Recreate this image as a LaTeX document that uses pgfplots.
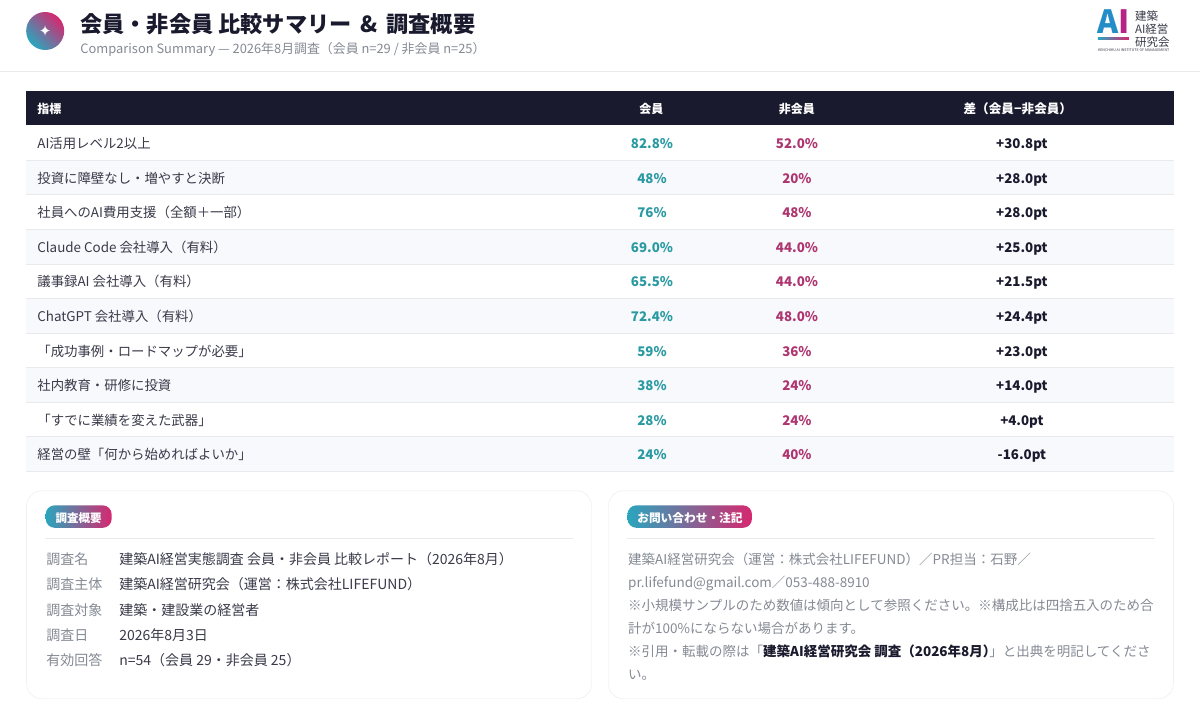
\documentclass[border=0pt]{standalone}
\usepackage{pgfplots}
\pgfplotsset{compat=1.18}
\usepackage{pgfplotstable}
\usepackage{fontspec}
\setmainfont{Noto Sans CJK JP}
\newfontfamily\dejavu{DejaVu Sans}
\definecolor{ink}{HTML}{1A1A2E}
\definecolor{teal1}{HTML}{2A9AA2}
\definecolor{mag1}{HTML}{AE3570}
\definecolor{gtxt}{HTML}{3A3A4A}
\definecolor{grey1}{HTML}{858A94}
\definecolor{line1}{HTML}{E8EAEE}
\definecolor{alt}{HTML}{F7F9FC}
\definecolor{gA}{HTML}{2AA6BE}
\definecolor{gB}{HTML}{D6286F}
\newcommand{\fs}[1]{\fontsize{#1}{#1}\selectfont}
\tikzset{tx/.style={inner sep=0pt,font=\fs{#1},text height=#1*0.86pt,text depth=#1*0.03pt},
         txb/.style={inner sep=0pt,font=\fs{#1}\bfseries,text height=#1*0.86pt,text depth=#1*0.03pt}}
\pgfplotstableread[col sep=comma]{
y,lab,mem,non,dif
143.1,AI活用レベル2以上,82.8\%,52.0\%,+30.8pt
177.7,投資に障壁なし・増やすと決断,48\%,20\%,+28.0pt
212.3,社員へのAI費用支援（全額＋一部）,76\%,48\%,+28.0pt
246.9,Claude Code 会社導入（有料）,69.0\%,44.0\%,+25.0pt
281.5,議事録AI 会社導入（有料）,65.5\%,44.0\%,+21.5pt
316.1,ChatGPT 会社導入（有料）,72.4\%,48.0\%,+24.4pt
350.7,「成功事例・ロードマップが必要」,59\%,36\%,+23.0pt
385.3,社内教育・研修に投資,38\%,24\%,+14.0pt
419.9,「すでに業績を変えた武器」,28\%,24\%,+4.0pt
454.5,経営の壁「何から始めればよいか」,24\%,40\%,-16.0pt
}\rows
\begin{document}
\begin{tikzpicture}
\begin{axis}[
  scale only axis, width=1200pt, height=721pt,
  xmin=0, xmax=1200, ymin=0, ymax=721, y dir=reverse,
  hide axis, clip=false,
  nodes near coords style={anchor=center, txb=13.3},
]
\fill[white] (axis cs:0,0) rectangle (axis cs:1200,721);
% header
\draw[line1] (axis cs:0,71.5) -- (axis cs:1200,71.5);
\shade[left color=gA, right color=gB, shading angle=135] (axis cs:45,31) circle[radius=19pt];
\node[white,inner sep=0pt,font=\dejavu\fs{15}] at (axis cs:45,31) {✦};
\node[anchor=west,txb=22.2,text=ink] at (axis cs:80,23) {会員・非会員 比較サマリー \,\&\, 調査概要};
\node[anchor=west,tx=12.9,text=grey1] at (axis cs:80,48) {Comparison Summary — 2026年8月調査（会員 n=29 / 非会員 n=25）};
% logo
\node[anchor=center,txb=32,text=gA!85!blue] at (axis cs:1108.5,20.3) {A};
\node[anchor=center,txb=32,text=gB!85!blue] at (axis cs:1124,20.3) {I};
\shade[left color=gA, right color=gB] (axis cs:1098,37.5) rectangle (axis cs:1129,40);
\node[anchor=west,tx=11.5,text=gtxt] at (axis cs:1135,16) {建築};
\node[anchor=west,tx=11.5,text=gtxt] at (axis cs:1135,29) {AI経営};
\node[anchor=west,tx=11.5,text=gtxt] at (axis cs:1135,42) {研究会};
\node[anchor=west,tx=3.6,text=gtxt] at (axis cs:1098,50) {KENCHIKU AI INSTITUTE OF MANAGEMENT};
% table backgrounds
\fill[ink] (axis cs:26,91) rectangle (axis cs:1174,125.3);
\fill[alt] (axis cs:26,160) rectangle (axis cs:1174,194.6);
\fill[alt] (axis cs:26,229.2) rectangle (axis cs:1174,263.8);
\fill[alt] (axis cs:26,298.4) rectangle (axis cs:1174,333);
\fill[alt] (axis cs:26,367.6) rectangle (axis cs:1174,402.2);
\fill[alt] (axis cs:26,436.8) rectangle (axis cs:1174,471.4);
\foreach \yy in {160,194.6,229.2,263.8,298.4,333,367.6,402.2,436.8,471.4}{
  \edef\temp{\noexpand\draw[line1] (axis cs:26,\yy) -- (axis cs:1174,\yy);}\temp
}
\node[anchor=west,txb=12,text=white] at (axis cs:37,108.7) {指標};
\node[txb=12,text=white] at (axis cs:651.5,108.7) {会員};
\node[txb=12,text=white] at (axis cs:797,108.7) {非会員};
\node[txb=12.6,text=white] at (axis cs:1018,108.7) {差（会員−非会員）};
% table text
\addplot[only marks, mark=none, point meta=explicit symbolic,
  nodes near coords,
  nodes near coords style={anchor=west, tx=13.4, text=gtxt}]
  table[col sep=comma, x expr=37, y=y, meta=lab] {\rows};
\addplot[only marks, mark=none, point meta=explicit symbolic,
  nodes near coords, nodes near coords style={text=teal1}]
  table[col sep=comma, x expr=652, y=y, meta=mem] {\rows};
\addplot[only marks, mark=none, point meta=explicit symbolic,
  nodes near coords, nodes near coords style={text=mag1}]
  table[col sep=comma, x expr=797, y=y, meta=non] {\rows};
\addplot[only marks, mark=none, point meta=explicit symbolic,
  nodes near coords, nodes near coords style={text=ink}]
  table[col sep=comma, x expr=1022, y=y, meta=dif] {\rows};
% cards
\draw[line1,rounded corners=15pt,fill=white] (axis cs:26.5,491) rectangle (axis cs:591.5,699);
\draw[line1,rounded corners=15pt,fill=white] (axis cs:608.5,491) rectangle (axis cs:1173.5,699);
\shade[left color=gA, right color=gB, rounded corners=9pt] (axis cs:45.5,505.5) rectangle (axis cs:111.5,528);
\node[text=white,txb=11.5] at (axis cs:78.5,517.7) {調査概要};
\shade[left color=gA, right color=gB, rounded corners=9pt] (axis cs:627.5,505.5) rectangle (axis cs:752,528);
\node[text=white,txb=11.7] at (axis cs:690,517.7) {お問い合わせ・注記};
\draw[line1] (axis cs:45,538) -- (axis cs:573,538);
\draw[line1] (axis cs:627,538) -- (axis cs:1155,538);
% survey list
\foreach \yy/\a/\b in {559/調査名/建築AI経営実態調査 会員・非会員 比較レポート（2026年8月）,
 584/調査主体/建築AI経営研究会（運営：株式会社LIFEFUND）,
 609.5/調査対象/建築・建設業の経営者,
 635/調査日/2026年8月3日,
 660/有効回答/n=54（会員 29・非会員 25）}{
  \edef\temp{\noexpand\node[anchor=west,tx=14,text=grey1] at (axis cs:46,\yy) {\a};
  \noexpand\node[anchor=west,tx=14,text=gtxt] at (axis cs:119,\yy) {\b};}\temp
}
% notes
\node[anchor=west,tx=13.5,text=grey1] at (axis cs:628,559) {建築AI経営研究会（運営：株式会社LIFEFUND）／PR担当：石野／};
\node[anchor=west,tx=13.5,text=grey1] at (axis cs:628,582.5) {pr.lifefund@gmail.com／053-488-8910};
\node[anchor=west,tx=13.5,text=grey1] at (axis cs:628,605.5) {※小規模サンプルのため数値は傾向として参照ください。※構成比は四捨五入のため合};
\node[anchor=west,tx=13.5,text=grey1] at (axis cs:628,628.5) {計が100\%にならない場合があります。};
\node[anchor=west,tx=13.5,text=grey1] at (axis cs:628,651.5) {※引用・転載の際は「\textcolor{ink}{\bfseries 建築AI経営研究会 調査（2026年8月）}\hspace{-7pt}」と出典を明記してくださ};
\node[anchor=west,tx=13.5,text=grey1] at (axis cs:628,674.5) {い。};
\end{axis}
\end{tikzpicture}
\end{document}
